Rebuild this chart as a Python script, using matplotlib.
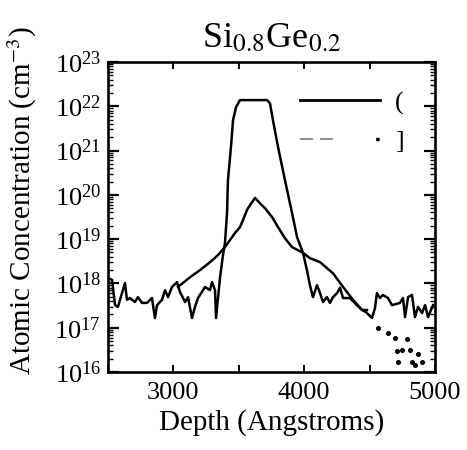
import numpy as np
import matplotlib
matplotlib.use("Agg")
import matplotlib.pyplot as plt
from matplotlib.lines import Line2D
from matplotlib.ticker import MultipleLocator, LogLocator, FixedLocator

plt.rcParams['font.family'] = ['Liberation Serif', 'DejaVu Serif']
plt.rcParams['mathtext.fontset'] = 'stix'
plt.rcParams['lines.scale_dashes'] = False

# ---- data (depth in Angstroms, concentration as log10 of cm^-3) ----
depth_a = [2500, 2531, 2554, 2576, 2630, 2645, 2668, 2706, 2729, 2760, 2798, 2836,
           2859, 2875, 2913, 2936, 2959, 2989, 3028, 3050, 3089, 3112, 3142, 3165,
           3188, 3242, 3280, 3295, 3318, 3326, 3356, 3379, 3394, 3410, 3417, 3440,
           3456, 3479, 3509, 3716, 3738, 3761, 3800, 3853, 3907, 3945, 3991, 4021,
           4044, 4067, 4098, 4121, 4144, 4174, 4197, 4220, 4251, 4274, 4297, 4350,
           4396, 4442, 4473, 4518, 4541, 4556, 4579, 4602, 4641, 4671, 4732, 4755,
           4771, 4794, 4824, 4847, 4870, 4901, 4924, 4947, 4985]
logc_a = [18.12, 18.08, 17.51, 17.47, 18.01, 17.63, 17.67, 17.58, 17.69, 17.56, 17.56, 17.67,
          17.22, 17.51, 17.63, 17.85, 17.69, 17.92, 18.03, 17.81, 17.58, 17.69, 17.22, 17.47,
          17.67, 17.92, 17.85, 18.03, 17.85, 17.22, 18.12, 18.64, 18.91, 19.59, 20.33, 21.08,
          21.69, 21.98, 22.14, 22.14, 22.07, 21.69, 21.08, 20.33, 19.59, 19.05, 18.69, 18.30,
          17.96, 17.69, 17.96, 17.78, 17.58, 17.69, 17.56, 17.69, 17.78, 17.90, 17.67, 17.67,
          17.53, 17.40, 17.35, 17.22, 17.44, 17.78, 17.67, 17.74, 17.67, 17.51, 17.56, 17.67,
          17.24, 17.69, 17.74, 17.24, 17.47, 17.33, 17.51, 17.24, 17.51]

depth_b = [3035, 3127, 3203, 3280, 3341, 3394, 3433, 3471, 3509, 3532, 3563, 3586,
           3624, 3662, 3700, 3754, 3800, 3853, 3907, 3953, 3991, 4044, 4121, 4220,
           4297, 4373, 4442, 4480]
logc_b = [17.92, 18.14, 18.30, 18.48, 18.64, 18.82, 18.98, 19.14, 19.27, 19.43, 19.66, 19.77,
          19.93, 19.81, 19.70, 19.50, 19.27, 19.02, 18.82, 18.75, 18.69, 18.57, 18.48, 18.23,
          17.92, 17.63, 17.40, 17.40]

depth_tail = [4564, 4641, 4694, 4786, 4709, 4748, 4809, 4870, 4717, 4824, 4847, 4901]
logc_tail = [16.99, 16.88, 16.77, 16.74, 16.47, 16.50, 16.50, 16.41, 16.23, 16.23, 16.16, 16.23]

legend_labels = ["(", "]"]
title = "Si$_{0.8}$Ge$_{0.2}$"
xlabel = "Depth (Angstroms)"
ylabel = "Atomic Concentration (cm$^{-3}$)"
xticks = [3000, 4000, 5000]

conc_a = 10.0 ** np.array(logc_a)
conc_b = 10.0 ** np.array(logc_b)
conc_tail = 10.0 ** np.array(logc_tail)

fig = plt.figure(figsize=(4.67, 4.5), dpi=100)
ax = fig.add_axes([108/467, 1 - 372/450, 327/467, 310/450])

ax.plot(depth_a, conc_a, color='black', lw=1.8, solid_joinstyle='round')
ax.plot(depth_b, conc_b, color='black', lw=1.8, solid_joinstyle='round')
ax.plot(depth_tail, conc_tail, ls='none', marker='o', ms=2.6, color='black')

ax.set_yscale('log')
ax.set_xlim(2500, 5000)
ax.set_ylim(1e16, 1e23)
ax.xaxis.set_major_locator(FixedLocator(xticks))
ax.xaxis.set_minor_locator(MultipleLocator(500))
ax.yaxis.set_major_locator(LogLocator(base=10, numticks=20))
ax.yaxis.set_minor_locator(LogLocator(base=10, subs=np.arange(2, 10), numticks=100))

ax.tick_params(which='both', direction='in', top=True, right=True, labelsize=19)
ax.tick_params(axis='y', which='major', length=8, width=1.6, pad=5)
ax.tick_params(axis='y', which='minor', length=3.5, width=1.0)
ax.tick_params(axis='x', which='major', length=5, width=1.4, pad=7)
ax.tick_params(axis='x', which='minor', length=5, width=1.4)
for s in ax.spines.values():
    s.set_linewidth(1.9)

ax.set_title(title, fontsize=26, pad=11)
ax.set_xlabel(xlabel, fontsize=21, labelpad=4)
fig.text(22/467, 1 - 201/450, ylabel, rotation=90, fontsize=21,
         ha='center', va='center')

h1 = Line2D([], [], color='black', lw=2.0)
h2a = Line2D([], [], color='0.45', lw=1.1, linestyle=(0, (9.4, 5, 9.4, 100)))
h2b = Line2D([], [], color='black', lw=2.5, linestyle=(102.5 - 54.5, (2.5, 100)))
ax.legend([h1, (h2a, h2b)], legend_labels, loc='upper left',
          bbox_to_anchor=((300 - 108) / 327, (372 - 91) / 310),
          frameon=False, fontsize=19, handlelength=3.05, handletextpad=0.55,
          labelspacing=0.55, borderpad=0, borderaxespad=0)

fig.savefig("out.png", dpi=100)
